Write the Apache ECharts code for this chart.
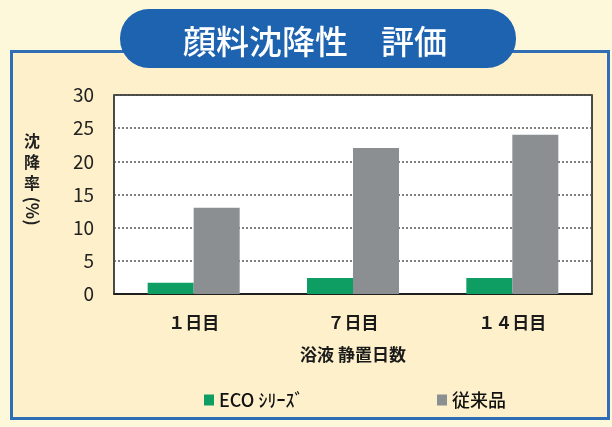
<!DOCTYPE html>
<html><head><meta charset="utf-8">
<script src="https://cdn.jsdelivr.net/npm/echarts@6/dist/echarts.min.js"></script>
<style>html,body{margin:0;padding:0;background:#FEF8DA}#c{width:612px;height:427px}</style>
</head><body><div id="c"></div>
<script>
const title = '顔料沈降性　評価';
const categories = ['１日目', '７日目', '１４日目'];
const seriesNames = ['ECO ｼﾘｰｽﾞ', '従来品'];
const ecoValues = [1.7, 2.4, 2.4];
const conventionalValues = [13.0, 22.0, 24.0];
const yTicks = [0, 5, 10, 15, 20, 25, 30];
const yNameMain = '沈\n降\n率';
const yNameUnit = '(%)';
const xName = '浴液 静置日数';

const chart = echarts.init(document.getElementById('c'), null, {renderer: 'canvas'});
const font = '"Noto Sans CJK JP", "Noto Sans", sans-serif';
chart.setOption({
  backgroundColor: '#FEF8DA',
  animation: false,
  textStyle: {fontFamily: font},
  graphic: [
    {type: 'rect', z: -10, shape: {x: 11.5, y: 51.5, width: 597, height: 367}, style: {fill: '#FDF0CA', stroke: '#2F6DB5', lineWidth: 3}},
    {type: 'rect', z: -5, shape: {x: 120, y: 9, width: 396, height: 59, r: 29}, style: {fill: '#1E63B0'}},
    {type: 'text', z: -4, style: {text: title, x: 315, y: 41, align: 'center', verticalAlign: 'middle', fill: '#ffffff', font: '500 33px ' + font}},
    {type: 'text', style: {text: yNameMain, x: 32, y: 162, align: 'center', verticalAlign: 'middle', fill: '#222', font: 'bold 16px ' + font, lineHeight: 21}},
    {type: 'text', x: 32, y: 211, rotation: -Math.PI / 2, style: {text: yNameUnit, x: 0, y: 0, align: 'center', verticalAlign: 'middle', fill: '#222', font: 'bold 17px ' + font}}
  ],
  grid: {left: 114, right: 20, top: 95, bottom: 133, show: true, backgroundColor: '#ffffff', borderColor: '#111', borderWidth: 1.5},
  legend: [
    {left: 199, top: 386, itemWidth: 10, itemHeight: 11, icon: 'rect', itemGap: 6,
     textStyle: {fontSize: 18, color: '#111', fontFamily: font, fontWeight: 500},
     data: [seriesNames[0]]},
    {left: 432, top: 386, itemWidth: 10, itemHeight: 11, icon: 'rect',
     textStyle: {fontSize: 18, color: '#111', fontFamily: font, fontWeight: 500},
     data: [seriesNames[1]]}
  ],
  xAxis: {
    type: 'category', data: categories,
    name: xName, nameLocation: 'middle', nameGap: 52,
    nameTextStyle: {fontSize: 17, color: '#1a1a1a', fontWeight: 'bold'},
    axisLine: {lineStyle: {color: '#111', width: 1.5}},
    axisTick: {inside: true, length: 5, lineStyle: {color: '#111'}},
    axisLabel: {fontSize: 17, color: '#1a1a1a', margin: 20, fontWeight: 'bold'}
  },
  yAxis: {
    type: 'value', min: 0, max: 30, interval: 5,
    axisLine: {show: false}, axisTick: {show: false},
    axisLabel: {fontSize: 19, color: '#222', margin: 20, fontFamily: font},
    splitLine: {lineStyle: {color: '#555', type: [2, 2], width: 1.5}}
  },
  series: [
    {name: seriesNames[0], type: 'bar', data: ecoValues, barWidth: 46, barGap: '0%', itemStyle: {color: '#0E9E63'}},
    {name: seriesNames[1], type: 'bar', data: conventionalValues, barWidth: 46, barGap: '0%', itemStyle: {color: '#8C8F92'}}
  ]
});
</script></body></html>
